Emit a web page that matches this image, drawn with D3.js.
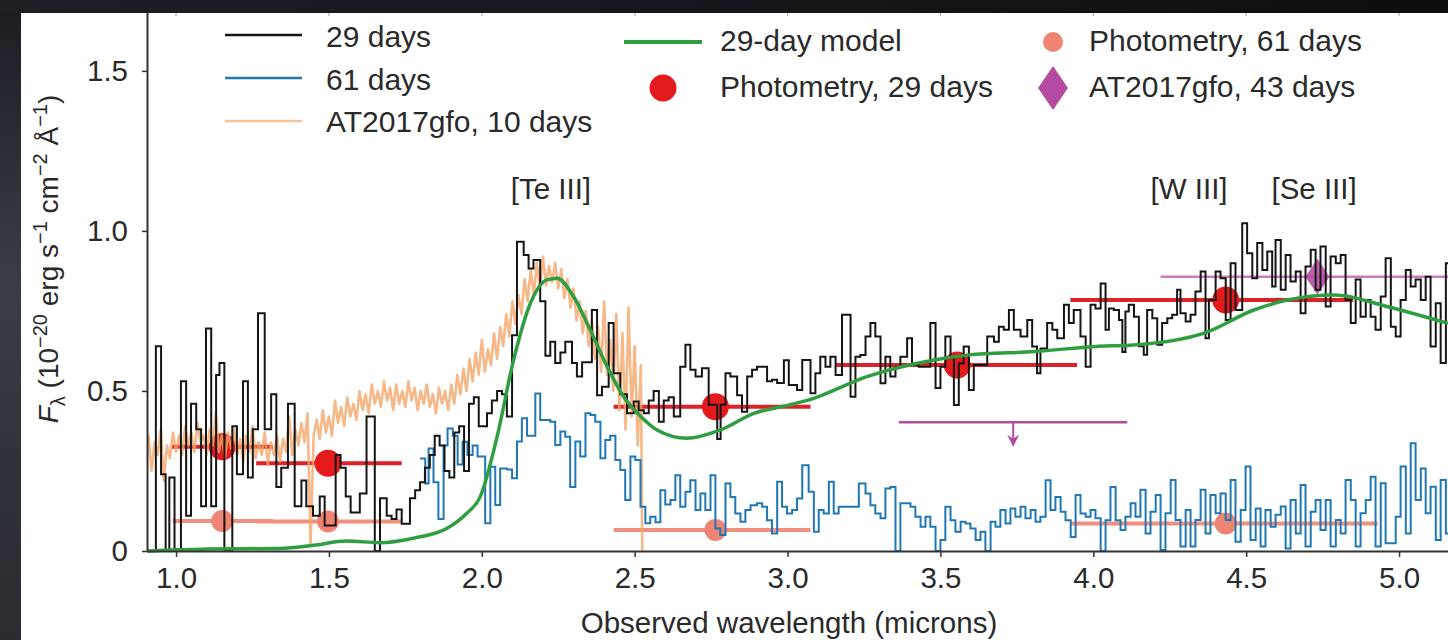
<!doctype html>
<html lang="en">
<head>
<meta charset="utf-8">
<title>Spectrum, 29 and 61 days</title>
<style>
body { margin: 0; background: #1b1d22; }
svg { display: block; font-family: "Liberation Sans", Arial, Helvetica, sans-serif; }
</style>
</head>
<body>
<script src="https://cdn.jsdelivr.net/npm/d3@7"></script>
<script>

// ---- data ----
// 29-day spectrum, [wavelength (bin start), flux]
var spec29 = [
 [0.934,0],[0.934,0.64],[0.951,0.24],[0.966,0],[0.978,0.23],[0.995,0],[1.016,0.53],[1.033,0.11],[1.049,0.46],
 [1.066,0.38],[1.082,0.14],[1.098,0.695],[1.115,0.14],[1.131,0.55],[1.142,0.587],[1.158,0],[1.184,0.39],
 [1.199,0.24],[1.219,0.53],[1.235,0.23],[1.251,0.38],[1.268,0.743],[1.290,0.38],[1.311,0.49],[1.328,0.20],
 [1.344,0.26],[1.366,0.46],[1.388,0.14],[1.410,0.22],[1.426,0.14],[1.448,0.11],[1.470,0.17],[1.486,0.08],
 [1.522,0.30],[1.538,0.26],[1.555,0.17],[1.571,0.12],[1.601,0.18],[1.623,0.42],[1.650,0],[1.667,0.165],
 [1.689,0.11],[1.705,0.10],[1.721,0.13],[1.738,0.085],[1.765,0.165],[1.782,0.19],[1.798,0.215],[1.814,0.26],
 [1.830,0.30],[1.846,0.36],[1.862,0.33],[1.878,0.25],[1.894,0.23],[1.910,0.37],[1.926,0.39],[1.942,0.25],
 [1.958,0.46],[1.974,0.48],[1.990,0.39],[2.017,0.43],[2.033,0.47],[2.050,0.50],[2.066,0.49],[2.082,0.42],
 [2.099,0.674],[2.115,0.966],[2.137,0.925],[2.153,0.883],[2.169,0.909],[2.191,0.78],[2.208,0.61],[2.224,0.654],
 [2.240,0.587],[2.257,0.62],[2.273,0.654],[2.295,0.587],[2.311,0.545],[2.328,0.59],[2.360,0.753],[2.377,0.487],
 [2.393,0.513],[2.415,0.712],[2.431,0.555],[2.453,0.49],[2.475,0.43],[2.497,0.467],[2.513,0.44],[2.530,0.43],
 [2.546,0.47],[2.562,0.50],[2.579,0.404],[2.595,0.47],[2.611,0.48],[2.628,0.42],[2.649,0.576],[2.666,0.644],
 [2.682,0.566],[2.699,0.545],[2.720,0.571],[2.742,0.457],[2.770,0.35],[2.781,0.457],[2.797,0.555],[2.813,0.545],
 [2.835,0.487],[2.851,0.435],[2.868,0.545],[2.884,0.566],[2.900,0.576],[2.933,0.53],[2.949,0.535],[2.966,0.525],
 [2.988,0.596],[3.004,0.519],[3.031,0.503],[3.048,0.597],[3.075,0.493],[3.091,0.555],[3.107,0.607],[3.124,0.576],
 [3.140,0.607],[3.157,0.55],[3.178,0.738],[3.206,0.482],[3.222,0.607],[3.238,0.612],[3.255,0.67],[3.271,0.712],
 [3.287,0.67],[3.304,0.524],[3.320,0.607],[3.336,0.545],[3.353,0.576],[3.369,0.607],[3.391,0.665],[3.407,0.581],
 [3.429,0.576],[3.446,0.576],[3.467,0.712],[3.484,0.509],[3.500,0.576],[3.516,0.67],[3.533,0.607],[3.544,0.456],
 [3.560,0.586],[3.576,0.639],[3.593,0.503],[3.609,0.581],[3.631,0.581],[3.653,0.67],[3.675,0.654],[3.691,0.701],
 [3.707,0.691],[3.724,0.753],[3.740,0.691],[3.762,0.67],[3.784,0.722],[3.800,0.639],[3.816,0.555],[3.827,0.633],
 [3.849,0.712],[3.866,0.691],[3.882,0.665],[3.904,0.769],[3.920,0.712],[3.936,0.753],[3.958,0.67],[3.975,0.576],
 [3.991,0.769],[4.007,0.758],[4.024,0.836],[4.040,0.691],[4.051,0.758],[4.067,0.753],[4.084,0.722],[4.095,0.622],
 [4.105,0.748],[4.116,0.769],[4.133,0.732],[4.149,0.64],[4.165,0.613],[4.176,0.753],[4.193,0.727],[4.209,0.644],
 [4.225,0.712],[4.242,0.727],[4.258,0.738],[4.274,0.816],[4.285,0.743],[4.302,0.717],[4.318,0.738],[4.334,0.811],
 [4.351,0.873],[4.367,0.665],[4.378,0.784],[4.400,0.873],[4.416,0.852],[4.433,0.722],[4.449,0.899],[4.465,0.753],
 [4.487,1.024],[4.503,0.93],[4.520,0.852],[4.536,0.962],[4.553,0.878],[4.569,0.936],[4.585,0.826],[4.596,0.972],
 [4.613,0.816],[4.629,0.925],[4.645,0.842],[4.662,0.873],[4.678,0.743],[4.694,0.889],[4.711,0.941],[4.727,0.816],
 [4.743,0.951],[4.760,0.764],[4.776,0.92],[4.793,0.899],[4.809,0.925],[4.825,0.784],[4.842,0.712],[4.858,0.848],
 [4.874,0.732],[4.891,0.784],[4.907,0.732],[4.923,0.691],[4.940,0.795],[4.956,0.915],[4.973,0.701],[4.989,0.67],
 [5.005,0.784],[5.022,0.878],[5.038,0.826],[5.054,0.848],[5.071,0.784],[5.087,0.857],[5.103,0.639],[5.120,0.774],
 [5.136,0.587],[5.153,0.899],[5.170,0.899]
];

// 61-day spectrum, [wavelength (bin start), flux]
var spec61 = [
 [1.798,0.289],[1.815,0.211],[1.826,0.32],[1.842,0.215],[1.858,0.10],[1.875,0.33],[1.888,0.383],[1.905,0.36],
 [1.921,0.27],[1.937,0.341],[1.953,0.30],[1.970,0.33],[1.986,0.295],[2.011,0.087],[2.028,0.263],[2.044,0.144],
 [2.060,0.258],[2.082,0.255],[2.099,0.227],[2.115,0.342],[2.131,0.415],[2.148,0.36],[2.175,0.492],[2.191,0.409],
 [2.208,0.409],[2.224,0.404],[2.240,0.331],[2.257,0.373],[2.273,0.357],[2.289,0.20],[2.306,0.342],[2.322,0.295],
 [2.339,0.43],[2.355,0.425],[2.371,0.404],[2.388,0.29],[2.404,0.347],[2.420,0.36],[2.437,0.284],[2.453,0.253],
 [2.469,0.159],[2.486,0.295],[2.502,0.284],[2.519,0.138],[2.535,0.087],[2.551,0.107],[2.568,0.09],[2.584,0.19],
 [2.600,0.145],[2.617,0.159],[2.633,0.237],[2.649,0.138],[2.666,0.185],[2.682,0.221],[2.699,0.128],[2.715,0.18],
 [2.731,0.128],[2.748,0.237],[2.764,0.07],[2.780,0.05],[2.797,0.211],[2.813,0.169],[2.829,0.117],[2.846,0.091],
 [2.862,0.128],[2.879,0.143],[2.900,0.149],[2.917,0.138],[2.933,0.096],[2.949,0.055],[2.966,0.216],[2.982,0.138],
 [2.998,0.117],[3.015,0.128],[3.031,0.164],[3.048,0.268],[3.069,0.185],[3.086,0.06],[3.102,0.128],[3.118,0.117],
 [3.135,0.216],[3.151,0.117],[3.167,0.138],[3.184,0.138],[3.233,0.211],[3.255,0.18],[3.271,0.143],[3.287,0.117],
 [3.304,0.102],[3.320,0.195],[3.336,0.2],[3.353,0],[3.369,0.149],[3.386,0.149],[3.402,0.138],[3.418,0.107],
 [3.435,0.076],[3.451,0.107],[3.467,0.076],[3.484,0],[3.500,0.034],[3.516,0.138],[3.533,0.096],[3.549,0.06],
 [3.566,0.091],[3.582,0.086],[3.598,0.07],[3.615,0.034],[3.631,0.06],[3.647,0],[3.664,0.091],[3.680,0.076],
 [3.696,0.128],[3.713,0.086],[3.729,0.133],[3.745,0.107],[3.762,0.138],[3.778,0.102],[3.795,0.128],[3.811,0.091],
 [3.827,0.107],[3.844,0.221],[3.860,0.128],[3.876,0.169],[3.893,0.123],[3.909,0.096],[3.926,0.044],[3.942,0.175],
 [3.958,0.117],[3.975,0.107],[3.991,0.128],[4.007,0.102],[4.024,0],[4.040,0.096],[4.056,0.2],[4.073,0.096],
 [4.089,0.066],[4.105,0.107],[4.122,0.149],[4.138,0.107],[4.154,0.191],[4.171,0.055],[4.187,0.123],[4.204,0.175],
 [4.220,0.003],[4.236,0.118],[4.253,0.222],[4.269,0.097],[4.285,0.014],[4.302,0.128],[4.318,0.014],[4.334,0.097],
 [4.351,0.191],[4.367,0.055],[4.383,0.175],[4.400,0.118],[4.416,0.18],[4.433,0.097],[4.449,0.222],[4.465,0.029],
 [4.482,0.128],[4.498,0.264],[4.514,0.034],[4.531,0.133],[4.547,0.014],[4.563,0.128],[4.580,0.076],[4.596,0.113],
 [4.613,0.139],[4.629,0.008],[4.645,0.159],[4.662,0.055],[4.678,0.206],[4.694,0.014],[4.711,0.123],[4.727,0.159],
 [4.743,0.066],[4.760,0.159],[4.776,0.014],[4.793,0.097],[4.809,0.055],[4.825,0.222],[4.842,0.159],[4.858,0.014],
 [4.874,0.118],[4.891,0.159],[4.907,0.232],[4.923,0.014],[4.940,0.212],[4.956,0.024],[4.973,0.024],[4.989,0.107],
 [5.005,0.264],[5.022,0.055],[5.038,0.337],[5.054,0.159],[5.071,0.258],[5.087,0.118],[5.103,0.201],[5.120,0.034],
 [5.136,0.222],[5.153,0.055],[5.170,0.055]
];

// AT2017gfo at 10 days, [wavelength, flux]
var specKn = [
 [0.905,0.30],[0.91,0.36],[0.92,0.25],[0.93,0.34],[0.94,0.30],[0.95,0.38],[0.96,0.22],[0.97,0.33],[0.98,0.29],[0.99,0.37],
 [1.00,0.31],[1.01,0.36],[1.02,0.30],[1.03,0.39],[1.04,0.33],[1.05,0.37],[1.06,0.31],[1.07,0.40],[1.08,0.34],[1.09,0.36],
 [1.10,0.30],[1.11,0.38],[1.12,0.33],[1.13,0.43],[1.14,0.31],[1.15,0.36],[1.16,0.29],[1.17,0.37],[1.18,0.32],[1.19,0.38],
 [1.20,0.30],[1.21,0.35],[1.22,0.28],[1.23,0.36],[1.24,0.31],[1.25,0.39],[1.26,0.29],[1.27,0.34],[1.28,0.30],[1.29,0.37],
 [1.30,0.27],[1.31,0.34],[1.32,0.30],[1.33,0.36],[1.34,0.28],[1.35,0.35],[1.36,0.31],[1.37,0.42],[1.38,0.30],[1.39,0.38],
 [1.40,0.33],[1.41,0.40],[1.42,0.34],[1.43,0.43],[1.44,0.02],[1.45,0.36],[1.46,0.41],[1.47,0.35],[1.48,0.44],[1.49,0.37],
 [1.50,0.42],[1.51,0.36],[1.52,0.47],[1.53,0.40],[1.54,0.45],[1.55,0.39],[1.56,0.48],[1.57,0.42],[1.58,0.46],[1.59,0.41],
 [1.60,0.50],[1.61,0.44],[1.62,0.49],[1.63,0.43],[1.64,0.52],[1.65,0.46],[1.66,0.50],[1.67,0.45],[1.68,0.53],[1.69,0.47],
 [1.70,0.51],[1.71,0.44],[1.72,0.52],[1.73,0.46],[1.74,0.50],[1.75,0.45],[1.76,0.53],[1.77,0.47],[1.78,0.51],[1.79,0.44],
 [1.80,0.50],[1.81,0.46],[1.82,0.52],[1.83,0.45],[1.84,0.49],[1.85,0.43],[1.86,0.51],[1.87,0.46],[1.88,0.50],[1.89,0.44],
 [1.90,0.52],[1.91,0.46],[1.92,0.55],[1.93,0.49],[1.94,0.57],[1.95,0.50],[1.96,0.60],[1.97,0.53],[1.98,0.62],[1.99,0.55],
 [2.00,0.66],[2.01,0.56],[2.02,0.63],[2.03,0.58],[2.04,0.68],[2.05,0.60],[2.06,0.70],[2.07,0.64],[2.08,0.74],[2.09,0.67],
 [2.10,0.78],[2.11,0.71],[2.12,0.80],[2.13,0.74],[2.14,0.85],[2.15,0.78],[2.16,0.88],[2.17,0.80],[2.18,0.90],[2.19,0.82],
 [2.20,0.92],[2.21,0.83],[2.22,0.89],[2.23,0.84],[2.24,0.90],[2.25,0.82],[2.26,0.88],[2.27,0.79],[2.28,0.85],[2.29,0.76],
 [2.30,0.82],[2.31,0.72],[2.32,0.78],[2.33,0.68],[2.34,0.75],[2.35,0.64],[2.36,0.72],[2.37,0.60],[2.38,0.70],[2.39,0.56],
 [2.40,0.78],[2.41,0.55],[2.42,0.66],[2.43,0.50],[2.44,0.74],[2.45,0.44],[2.46,0.68],[2.47,0.38],[2.48,0.76],[2.49,0.42],
 [2.50,0.64],[2.51,0.33],[2.52,0.58],[2.525,0]
];

// 29-day model
var modelWave = [0.905,0.93,1.0,1.1,1.2,1.34,1.45,1.557,1.667,1.776,1.885,1.95,1.995,2.05,2.104,2.159,2.213,2.246,2.3,2.355,
 2.41,2.464,2.52,2.573,2.671,2.78,2.89,3.0,3.07,3.26,3.48,3.59,3.81,4.02,4.12,4.36,4.525,4.634,4.79,4.96,5.16];
var modelFlux = [0.0,0.001,0.004,0.006,0.007,0.008,0.018,0.031,0.026,0.04,0.07,0.117,0.17,0.357,0.597,0.774,0.847,0.852,0.795,0.69,
 0.576,0.482,0.42,0.378,0.352,0.378,0.43,0.455,0.472,0.545,0.597,0.612,0.623,0.64,0.643,0.68,0.753,0.784,0.80,0.764,0.711];

// photometry, 29 days
var phot29Wave = [1.151, 1.497, 2.764, 3.555, 4.433];
var phot29Flux = [0.326, 0.274, 0.451, 0.581, 0.784];
var phot29Lo   = [0.987, 1.262, 2.431, 3.157, 3.925];
var phot29Hi   = [1.317, 1.738, 3.075, 3.947, 4.85];
// photometry, 61 days
var phot61Wave = [1.151, 1.497, 2.764, 4.433];
var phot61Flux = [0.094, 0.092, 0.066, 0.086];
var phot61Lo   = [0.989, 1.262, 2.431, 3.925];
var phot61Hi   = [1.317, 1.738, 3.075, 4.93];
// upper limit (purple arrow)
var limitLo = 3.364, limitHi = 4.111, limitWave = 3.738, limitFlux = 0.402, limitTip = 0.326;
// AT2017gfo at 43 days
var gfo43Wave = 4.733, gfo43Flux = 0.857, gfo43Lo = 4.22, gfo43Hi = 5.25;

var lineLabels = ["[Te III]", "[W III]", "[Se III]"];
var lineWave = [2.226, 4.313, 4.722];
var lineFlux = 1.10;

var xTicks = [1.0, 1.5, 2.0, 2.5, 3.0, 3.5, 4.0, 4.5, 5.0];
var yTicks = [0, 0.5, 1.0, 1.5];

// ---- layout ----
var W = 1448, H = 640;
var svg = d3.select("body").append("svg").attr("width", W).attr("height", H);

var x = d3.scaleLinear().domain([0.905, 5.16]).range([147, 1448]);
var y = d3.scaleLinear().domain([0, 1.684]).range([551, 12]);

var defs = svg.append("defs");
var gl = defs.append("linearGradient").attr("id", "leftband").attr("x1", 0).attr("y1", 0).attr("x2", 0).attr("y2", 1);
gl.append("stop").attr("offset", "0%").attr("stop-color", "#1a1c21");
gl.append("stop").attr("offset", "22%").attr("stop-color", "#2a2d34");
gl.append("stop").attr("offset", "45%").attr("stop-color", "#3a3d45");
gl.append("stop").attr("offset", "70%").attr("stop-color", "#30333a");
gl.append("stop").attr("offset", "100%").attr("stop-color", "#2a2c31");
var gt = defs.append("linearGradient").attr("id", "topband").attr("x1", 0).attr("y1", 0).attr("x2", 1).attr("y2", 0);
gt.append("stop").attr("offset", "0%").attr("stop-color", "#1d1f25");
gt.append("stop").attr("offset", "100%").attr("stop-color", "#0d0e11");

defs.append("clipPath").attr("id", "plotclip")
  .append("rect").attr("x", 147).attr("y", 13).attr("width", 1301).attr("height", 540);

svg.append("rect").attr("width", W).attr("height", H).attr("fill", "url(#leftband)");
svg.append("rect").attr("width", W).attr("height", 13).attr("fill", "url(#topband)");
svg.append("rect").attr("x", 21).attr("y", 13).attr("width", W - 21).attr("height", H - 13).attr("fill", "#fff");

var plot = svg.append("g").attr("clip-path", "url(#plotclip)");

// photometry (drawn under the spectra)
function photometry(waves, flux, lo, hi, color, barColor, r) {
  plot.selectAll(null).data(waves).join("line")
    .attr("x1", function (d, i) { return x(lo[i]); })
    .attr("x2", function (d, i) { return x(hi[i]); })
    .attr("y1", function (d, i) { return y(flux[i]); })
    .attr("y2", function (d, i) { return y(flux[i]); })
    .attr("stroke", barColor).attr("stroke-width", 4);
  plot.selectAll(null).data(waves).join("circle")
    .attr("cx", function (d) { return x(d); })
    .attr("cy", function (d, i) { return y(flux[i]); })
    .attr("r", r).attr("fill", color);
}
photometry(phot61Wave, phot61Flux, phot61Lo, phot61Hi, "#f08474", "#f0907f", 11);
photometry(phot29Wave, phot29Flux, phot29Lo, phot29Hi, "#e41a1c", "#dc2228", 13.5);

// AT2017gfo 43 days
plot.append("line")
  .attr("x1", x(gfo43Lo)).attr("x2", x(gfo43Hi))
  .attr("y1", y(gfo43Flux)).attr("y2", y(gfo43Flux))
  .attr("stroke", "#c77cbb").attr("stroke-width", 2.5);
plot.append("path")
  .attr("d", "M" + x(gfo43Wave) + "," + (y(gfo43Flux) - 18) + "l12,18l-12,18l-12,-18z")
  .attr("fill", "#b44ca2").attr("opacity", 0.9);

// upper limit
plot.append("line")
  .attr("x1", x(limitLo)).attr("x2", x(limitHi))
  .attr("y1", y(limitFlux)).attr("y2", y(limitFlux))
  .attr("stroke", "#b24aa0").attr("stroke-width", 2.5);
plot.append("line")
  .attr("x1", x(limitWave)).attr("x2", x(limitWave))
  .attr("y1", y(limitFlux)).attr("y2", y(limitTip) - 4)
  .attr("stroke", "#b24aa0").attr("stroke-width", 2);
plot.append("path")
  .attr("d", "M" + (x(limitWave) - 6) + "," + (y(limitTip) - 12) + "L" + x(limitWave) + "," + y(limitTip) +
    "L" + (x(limitWave) + 6) + "," + (y(limitTip) - 12) + "L" + x(limitWave) + "," + (y(limitTip) - 8) + "Z")
  .attr("fill", "#b24aa0");

// spectra
var lineKn = d3.line().x(function (d) { return x(d[0]); }).y(function (d) { return y(d[1]); });
var stepLine = d3.line().x(function (d) { return x(d[0]); }).y(function (d) { return y(d[1]); }).curve(d3.curveStepAfter);

plot.append("path").datum(specKn).attr("d", lineKn)
  .attr("fill", "none").attr("stroke", "#f4a466").attr("stroke-width", 2.6).attr("opacity", 0.78)
  .attr("stroke-linejoin", "round");
plot.append("path").datum(spec61).attr("d", stepLine)
  .attr("fill", "none").attr("stroke", "#1f77b4").attr("stroke-width", 2);
plot.append("path").datum(spec29).attr("d", stepLine)
  .attr("fill", "none").attr("stroke", "#151515").attr("stroke-width", 2);

var modelLine = d3.line()
  .x(function (d, i) { return x(modelWave[i]); })
  .y(function (d) { return y(d); })
  .curve(d3.curveMonotoneX);
plot.append("path").datum(modelFlux).attr("d", modelLine)
  .attr("fill", "none").attr("stroke", "#2f9e41").attr("stroke-width", 3.5);

// axes
var fs = "29.5px", ink = "#2a2a2a";
var xAxis = svg.append("g").attr("transform", "translate(0,551)")
  .call(d3.axisBottom(x).tickValues(xTicks).tickFormat(d3.format(".1f")).tickSize(6).tickSizeOuter(0).tickPadding(10));
var yAxis = svg.append("g").attr("transform", "translate(147,0)")
  .call(d3.axisLeft(y).tickValues(yTicks).tickFormat(function (d) { return d === 0 ? "0" : d3.format(".1f")(d); })
    .tickSize(5).tickSizeOuter(0).tickPadding(14));
[xAxis, yAxis].forEach(function (a) {
  a.select(".domain").attr("stroke", "#333").attr("stroke-width", 2);
  a.selectAll(".tick line").attr("stroke", "#333").attr("stroke-width", 1.5);
  a.selectAll(".tick text").attr("font-size", fs).attr("fill", ink)
    .attr("font-family", "'Liberation Sans', Arial, Helvetica, sans-serif");
});

// faint top ticks
svg.selectAll(null).data(xTicks).join("line")
  .attr("x1", function (d) { return x(d); }).attr("x2", function (d) { return x(d); })
  .attr("y1", 13).attr("y2", 16).attr("stroke", "#bbb").attr("stroke-width", 1.5);

// axis titles
svg.append("text").attr("x", 789).attr("y", 633).attr("text-anchor", "middle")
  .attr("font-size", fs).attr("fill", ink).text("Observed wavelength (microns)");

var yl = svg.append("text").attr("transform", "translate(58,259) rotate(-90)")
  .attr("text-anchor", "middle").attr("font-size", "28px").attr("fill", ink);
yl.append("tspan").attr("font-style", "italic").text("F");
yl.append("tspan").attr("font-size", "20px").attr("dy", 7).text("λ");
yl.append("tspan").attr("dy", -7).text(" (10");
yl.append("tspan").attr("font-size", "20px").attr("dy", -11).text("−20");
yl.append("tspan").attr("dy", 11).text(" erg s");
yl.append("tspan").attr("font-size", "20px").attr("dy", -11).text("−1");
yl.append("tspan").attr("dy", 11).text(" cm");
yl.append("tspan").attr("font-size", "20px").attr("dy", -11).text("−2");
yl.append("tspan").attr("dy", 11).text(" Å");
yl.append("tspan").attr("font-size", "20px").attr("dy", -11).text("−1");
yl.append("tspan").attr("dy", 11).text(")");

// line identifications
svg.selectAll(null).data(lineLabels).join("text")
  .attr("x", function (d, i) { return x(lineWave[i]); })
  .attr("y", y(lineFlux))
  .attr("text-anchor", "middle").attr("font-size", fs).attr("fill", ink)
  .text(function (d) { return d; });

// legend
var leg = svg.append("g").attr("font-size", "30px").attr("fill", ink);
var col1 = [["29 days", "#151515", 35, 47], ["61 days", "#1f77b4", 78, 90], ["AT2017gfo, 10 days", "#f7c39a", 121, 132]];
col1.forEach(function (r) {
  leg.append("line").attr("x1", 225).attr("x2", 302).attr("y1", r[2]).attr("y2", r[2])
    .attr("stroke", r[1]).attr("stroke-width", 2.5);
  leg.append("text").attr("x", 326).attr("y", r[3]).text(r[0]);
});
leg.append("line").attr("x1", 624).attr("x2", 702).attr("y1", 42).attr("y2", 42)
  .attr("stroke", "#2f9e41").attr("stroke-width", 4);
leg.append("text").attr("x", 720).attr("y", 51).text("29-day model");
leg.append("circle").attr("cx", 663).attr("cy", 88).attr("r", 13.5).attr("fill", "#e41a1c");
leg.append("text").attr("x", 720).attr("y", 97).text("Photometry, 29 days");
leg.append("circle").attr("cx", 1053).attr("cy", 42).attr("r", 10).attr("fill", "#f08474");
leg.append("text").attr("x", 1089).attr("y", 51).text("Photometry, 61 days");
leg.append("path").attr("d", "M1053,66l15,22l-15,22l-15,-22z").attr("fill", "#b44ca2");
leg.append("text").attr("x", 1089).attr("y", 97).text("AT2017gfo, 43 days");

</script>
</body>
</html>
